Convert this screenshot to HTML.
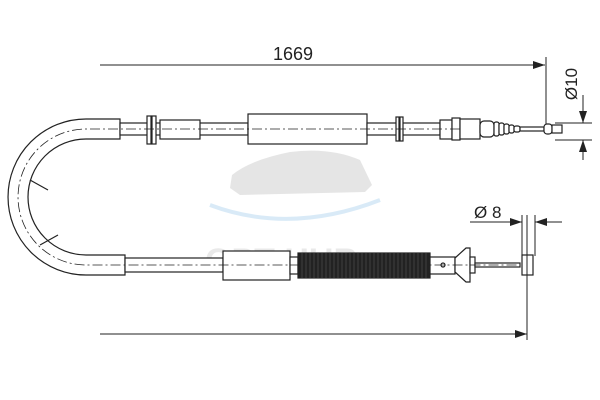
<!DOCTYPE html>
<html><head><meta charset="utf-8"><style>
html,body{margin:0;padding:0;background:#fff;}
svg{display:block;font-family:"Liberation Sans",sans-serif;}
</style></head><body>
<svg width="600" height="400" viewBox="0 0 600 400" xmlns="http://www.w3.org/2000/svg">
<defs>
<marker id="ar" markerWidth="12" markerHeight="8" refX="12" refY="4" orient="auto" markerUnits="userSpaceOnUse">
<path d="M0,0 L12,4 L0,8 z" fill="#222"/></marker>
</defs>
<!-- watermark -->
<g opacity="0.25">
<path d="M232,175 Q250,160 290,152 Q330,147 360,160 L372,185 L365,192 L240,195 L230,188 z" fill="#999"/>
<path d="M210,205 Q290,235 380,200" stroke="#6ab0e0" stroke-width="4" fill="none"/>
<text x="205" y="272" font-size="34" font-weight="bold" fill="#aaa">OPT HUB</text>
</g>
<g fill="#fff" stroke="#222" stroke-width="1.2">
<!-- U arc -->
<path d="M120,119 L86,119 A78,78 0 0 0 86,275 L125,275 L125,255 L86,255 A58,58 0 0 1 86,139 L120,139 z"/>
<line x1="48" y1="190" x2="30" y2="180"/>
<line x1="58" y1="235" x2="40" y2="245"/>
<!-- top thin cable -->
<rect x="120" y="123" width="128" height="12"/>
<rect x="147" y="116" width="4" height="28"/><rect x="152" y="116" width="4" height="28"/>
<rect x="160" y="120" width="40" height="19"/>
<rect x="248" y="114" width="119" height="30"/>
<rect x="367" y="123" width="73" height="12"/>
<rect x="396" y="117" width="3" height="24"/><rect x="400" y="117" width="3" height="24"/>
<rect x="440" y="120" width="12" height="19"/>
<rect x="452" y="118" width="8" height="22"/>
<rect x="460" y="119" width="20" height="20"/>
<rect x="480" y="121" width="14" height="16" rx="4"/>
<rect x="494" y="122" width="5" height="14" rx="2"/><rect x="499" y="123" width="5" height="12" rx="2"/>
<rect x="504" y="124" width="5" height="10" rx="2"/><rect x="509" y="125" width="5" height="8" rx="2"/>
<rect x="514" y="126" width="6" height="6" rx="2"/>
<rect x="520" y="127" width="24" height="4"/>
<rect x="544" y="124" width="8" height="10" rx="3"/>
<rect x="552" y="125" width="10" height="8"/>
<!-- bottom -->
<rect x="125" y="258" width="98" height="14"/>
<rect x="223" y="251" width="67" height="29"/>
<rect x="290" y="257" width="8" height="17"/>
<rect x="298" y="253" width="132" height="25" fill="#222"/>
<rect x="430" y="257" width="25" height="17"/>
<circle cx="443" cy="265" r="2"/>
<path d="M455,258 L466,248 L470,248 L470,282 L466,282 L455,272 z"/>
<rect x="470" y="257" width="5" height="16"/>
<rect x="475" y="263" width="45" height="4"/>
<rect x="522" y="255" width="11" height="20"/>
</g>
<g stroke="#222" stroke-width="0.8" fill="none" stroke-dasharray="10,3,2,3">
<path d="M460,129 L86,129 A68,68 0 0 0 86,265 L520,265"/>
</g>
<g stroke="#555" stroke-width="0.6">
<path d="M302,253 V278 M306,253 V278 M310,253 V278 M314,253 V278 M318,253 V278 M322,253 V278 M326,253 V278 M330,253 V278 M334,253 V278 M338,253 V278 M342,253 V278 M346,253 V278 M350,253 V278 M354,253 V278 M358,253 V278 M362,253 V278 M366,253 V278 M370,253 V278 M374,253 V278 M378,253 V278 M382,253 V278 M386,253 V278 M390,253 V278 M394,253 V278 M398,253 V278 M402,253 V278 M406,253 V278 M410,253 V278 M414,253 V278 M418,253 V278 M422,253 V278 M426,253 V278"/>
</g>
<g stroke="#222" stroke-width="1" fill="none">
<line x1="100" y1="65" x2="545" y2="65" marker-end="url(#ar)"/>
<line x1="546" y1="57" x2="546" y2="124"/>
<line x1="555" y1="123" x2="592" y2="123"/>
<line x1="555" y1="140" x2="592" y2="140"/>
<line x1="583" y1="95" x2="583" y2="123" marker-end="url(#ar)"/>
<line x1="583" y1="160" x2="583" y2="140" marker-end="url(#ar)"/>
<line x1="100" y1="334" x2="527" y2="334" marker-end="url(#ar)"/>
<line x1="527" y1="215" x2="527" y2="340"/>
<line x1="522" y1="215" x2="522" y2="256"/>
<line x1="535" y1="215" x2="535" y2="256"/>
<line x1="470" y1="222" x2="522" y2="222" marker-end="url(#ar)"/>
<line x1="562" y1="222" x2="535" y2="222" marker-end="url(#ar)"/>
</g>
<text x="293" y="60" font-size="18" text-anchor="middle" fill="#222">1669</text>
<text transform="translate(577,84) rotate(-90)" font-size="17" text-anchor="middle" fill="#222">Ø10</text>
<text x="474" y="218" font-size="17" fill="#222">Ø 8</text>
</svg>
</body></html>
